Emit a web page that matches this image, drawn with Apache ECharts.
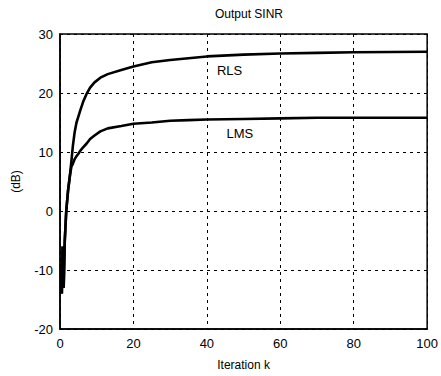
<!DOCTYPE html>
<html>
<head>
<meta charset="utf-8">
<script src="https://cdn.jsdelivr.net/npm/echarts@6/dist/echarts.min.js"></script>
<style>
  html, body { margin: 0; padding: 0; background: #fff; }
  #chart { width: 441px; height: 376px; }
</style>
</head>
<body>
<div id="chart"></div>
<script>
// iteration index k (sampled where the curves bend)
const iterK = [0.3, 0.5, 0.7, 1.0, 1.3, 1.7, 2.2, 2.7, 3.1, 3.5, 4, 4.5, 5, 5.5, 6.3, 7.2, 8.2, 9.4, 11, 13, 16.7, 20, 25, 30, 35, 40, 50, 60, 70, 80, 90, 100];
const rlsSinr = [-9, -14, -6, -13, -5, 0, 3.5, 6, 8.4, 11, 13.4, 15, 16, 17, 18.5, 19.8, 20.9, 21.8, 22.6, 23.2, 23.9, 24.5, 25.2, 25.6, 25.9, 26.2, 26.5, 26.7, 26.8, 26.9, 26.95, 27];
const lmsSinr = [-9, -14, -6, -13, -5, 0, 3.5, 6, 7.5, 8, 8.8, 9.3, 9.7, 10.2, 10.8, 11.4, 12.2, 12.8, 13.5, 14, 14.4, 14.8, 15, 15.3, 15.4, 15.5, 15.6, 15.7, 15.8, 15.8, 15.8, 15.8];
const seriesNames = ["RLS", "LMS"];
// where the curve names sit, in data units [k, dB]
const nameAt = [[46.2, 23.8], [49, 13.1]];
const xTicks = [0, 20, 40, 60, 80, 100];
const yTicks = [-20, -10, 0, 10, 20, 30];

const chart = echarts.init(document.getElementById("chart"), null, { renderer: "svg" });

const font = "Liberation Sans, Arial, sans-serif";
const gridDash = {
  show: true,
  lineStyle: { color: "#000", type: [3, 4], width: 1 },
};

const makeSeries = (name, values, i) => ({
  name: name,
  type: "line",
  data: iterK.map((k, j) => [k, values[j]]),
  showSymbol: false,
  smooth: false,
  silent: true,
  lineStyle: { color: "#000", width: 2.6 },
  markPoint: {
    symbol: "circle",
    symbolSize: 0,
    silent: true,
    label: {
      show: true,
      formatter: name,
      color: "#000",
      fontSize: 13,
      fontFamily: font,
    },
    data: [{ coord: nameAt[i] }],
  },
});

const option = {
  animation: false,
  title: {
    text: "Output SINR",
    left: 244,
    top: 3,
    textAlign: "center",
    textStyle: { color: "#000", fontSize: 12, fontWeight: "normal", fontFamily: font },
  },
  grid: {
    left: 60,
    top: 34,
    right: 13,
    bottom: 42,
    show: true,
    borderColor: "#000",
    borderWidth: 1.5,
  },
  xAxis: {
    type: "value",
    min: xTicks[0],
    max: xTicks[xTicks.length - 1],
    interval: 20,
    name: "Iteration k",
    nameLocation: "middle",
    nameGap: 30,
    nameTextStyle: { color: "#000", fontSize: 12, fontFamily: font },
    axisLine: { show: true, onZero: false, lineStyle: { color: "#000", width: 1.5 } },
    axisTick: { show: false },
    axisLabel: { color: "#000", fontSize: 13, margin: 8, fontFamily: font },
    splitLine: gridDash,
  },
  yAxis: {
    type: "value",
    min: yTicks[0],
    max: yTicks[yTicks.length - 1],
    interval: 10,
    name: "(dB)",
    nameLocation: "middle",
    nameGap: 38,
    nameRotate: 90,
    nameTextStyle: { color: "#000", fontSize: 12, fontFamily: font },
    axisLine: { show: true, onZero: false, lineStyle: { color: "#000", width: 1.5 } },
    axisTick: { show: false },
    axisLabel: { color: "#000", fontSize: 13, margin: 7, fontFamily: font },
    splitLine: gridDash,
  },
  series: [
    makeSeries(seriesNames[0], rlsSinr, 0),
    makeSeries(seriesNames[1], lmsSinr, 1),
  ],
};

chart.setOption(option);
</script>
</body>
</html>
